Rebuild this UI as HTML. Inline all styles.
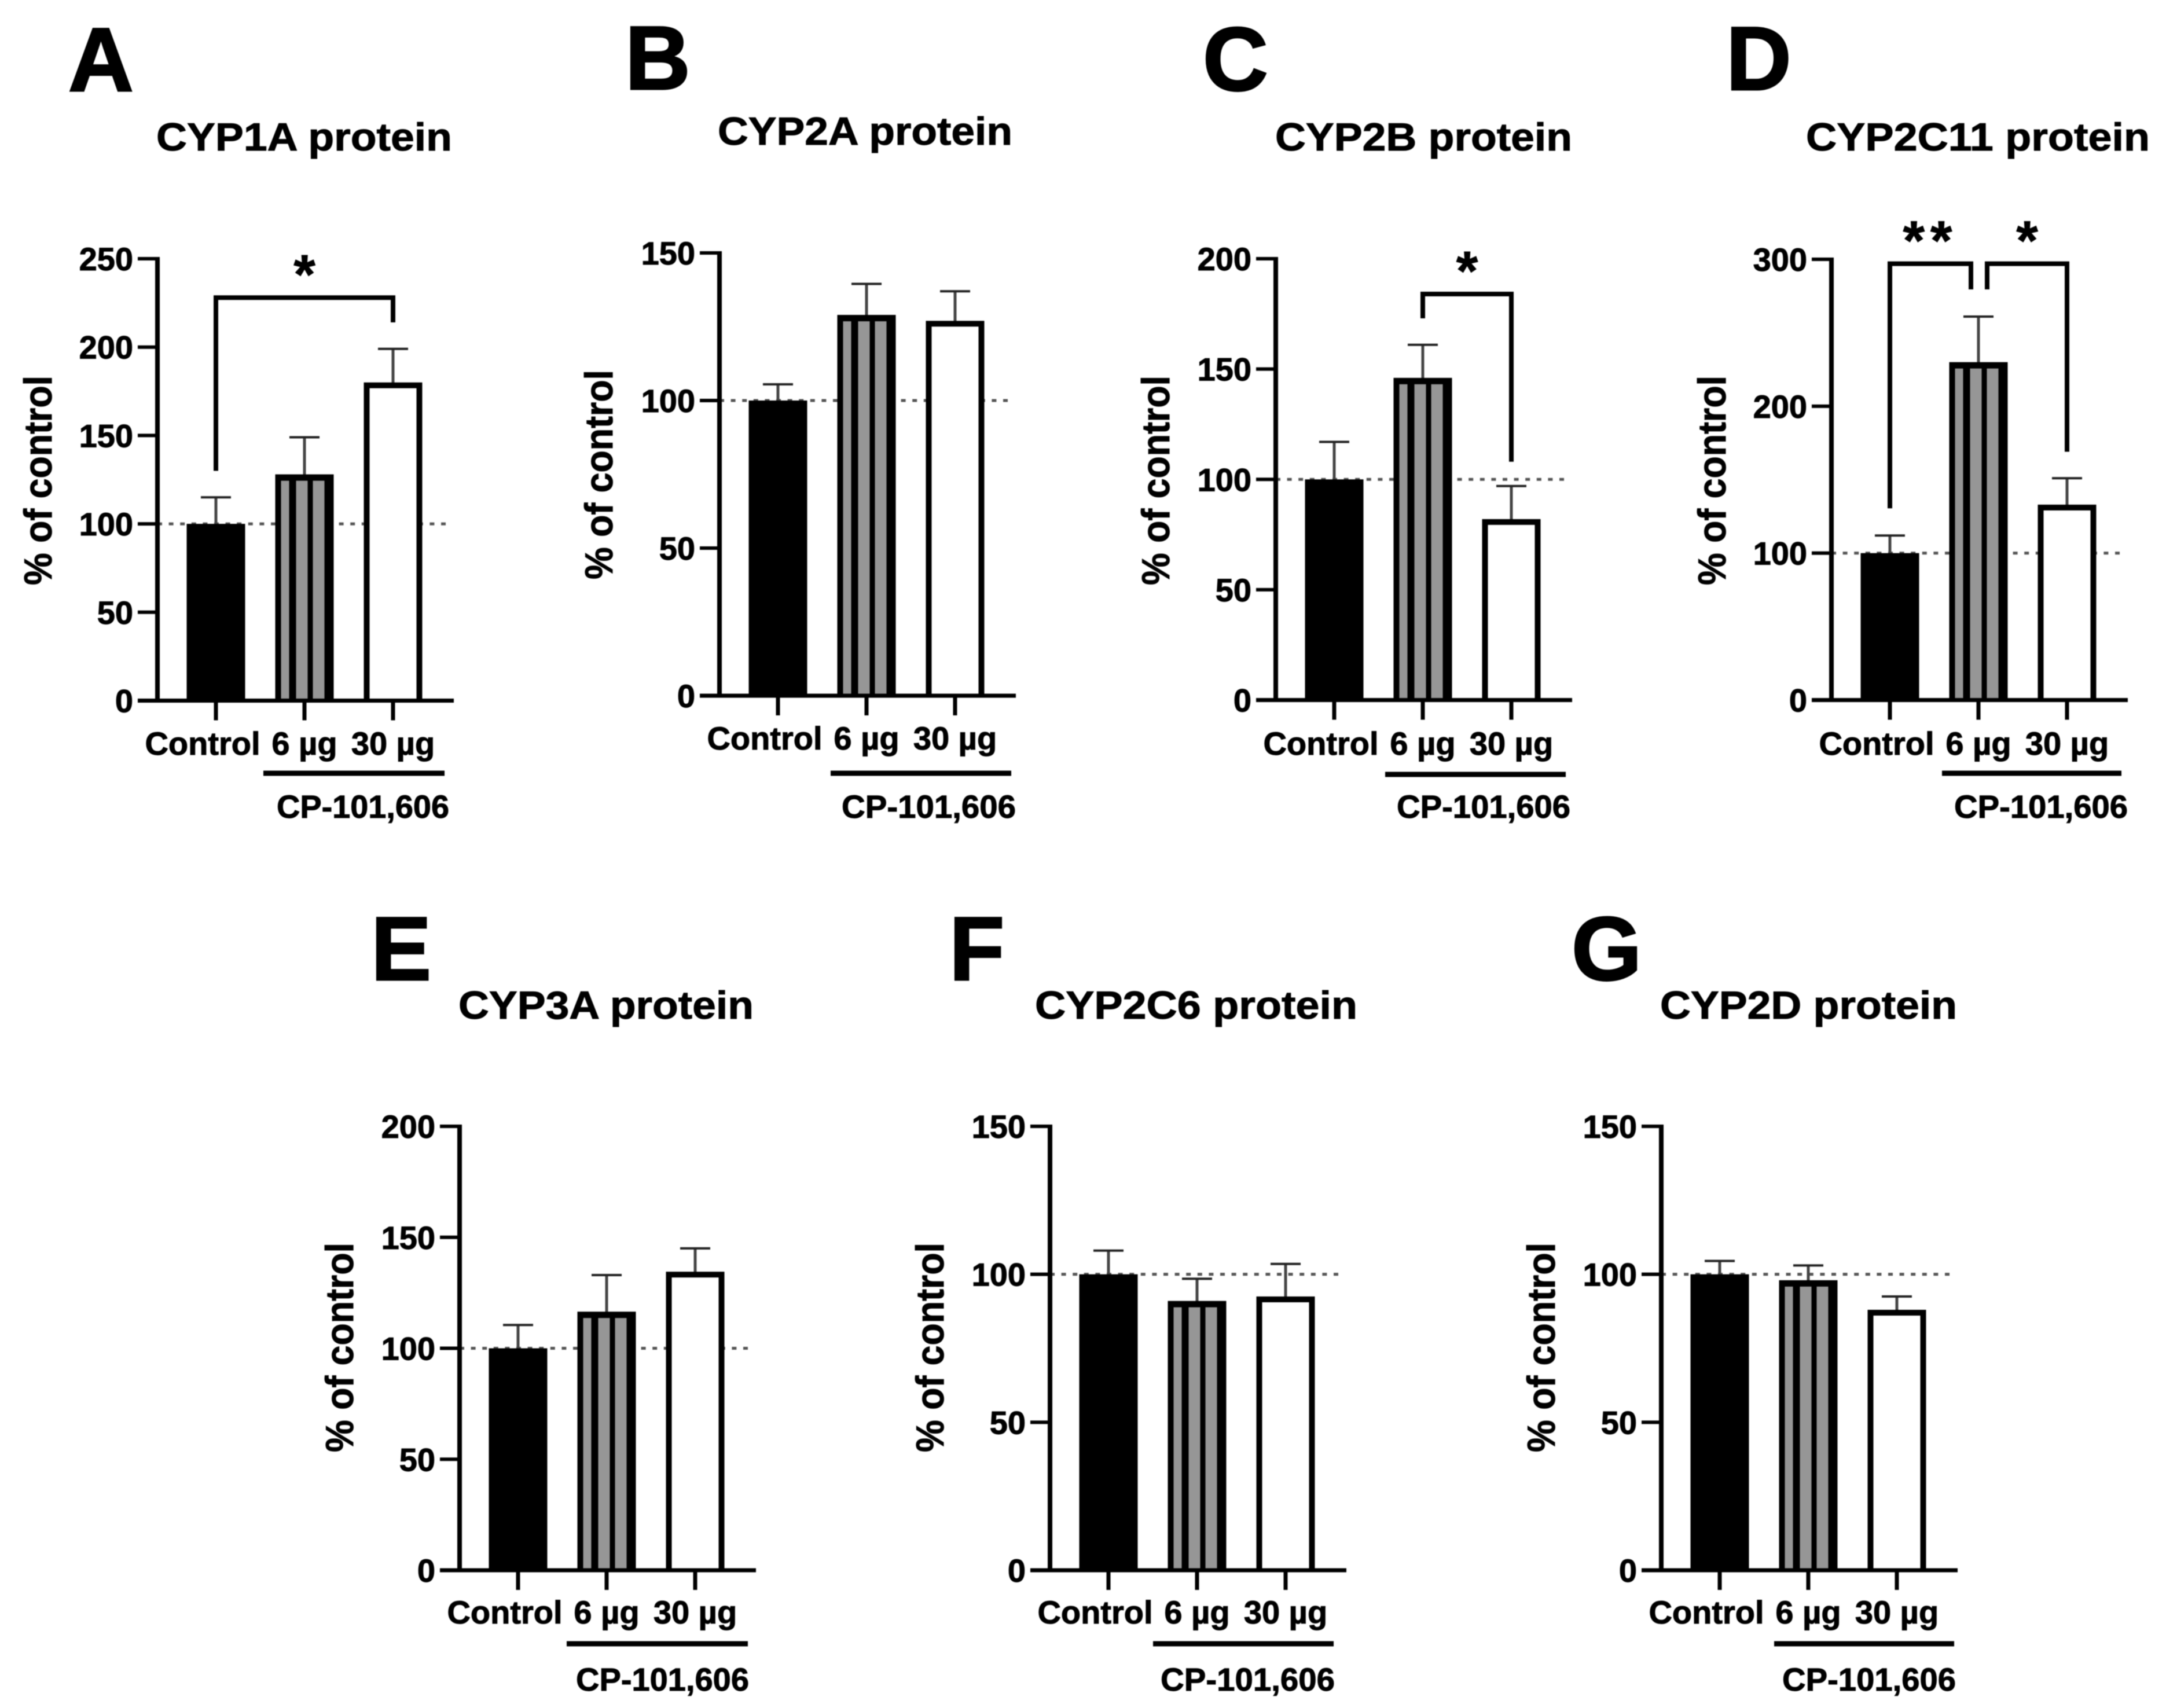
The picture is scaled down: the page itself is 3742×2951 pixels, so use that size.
<!DOCTYPE html>
<html lang="en">
<head>
<meta charset="utf-8">
<title>CYP protein levels</title>
<style>
html,body{margin:0;padding:0;background:#fff;}
svg{display:block;filter:blur(0.8px);}
text{font-family:"Liberation Sans",sans-serif;font-weight:700;fill:#000;stroke:#000;stroke-width:1px;}
</style>
</head>
<body>
<svg id="figure" xmlns="http://www.w3.org/2000/svg" width="3742" height="2951" viewBox="0 0 3742 2951"></svg>
<script>
// ---- chart data ----
const categories = ['Control', '6 µg', '30 µg'];
const treatmentLabel = 'CP-101,606';
const yAxisTitle = '% of control';
const referenceValue = 100;

const titles = ['CYP1A protein', 'CYP2A protein', 'CYP2B protein', 'CYP2C11 protein', 'CYP3A protein', 'CYP2C6 protein', 'CYP2D protein'];
const panelLetters = ['A', 'B', 'C', 'D', 'E', 'F', 'G'];

const ticksA = [0, 50, 100, 150, 200, 250];
const ticksB = [0, 50, 100, 150];
const ticksC = [0, 50, 100, 150, 200];
const ticksD = [0, 100, 200, 300];
const ticksE = [0, 50, 100, 150, 200];
const ticksF = [0, 50, 100, 150];
const ticksG = [0, 50, 100, 150];

const meansA = [100, 128, 180];
const meansB = [100, 129, 127];
const meansC = [100, 146, 82];
const meansD = [100, 230, 133];
const meansE = [100, 116.5, 134.5];
const meansF = [100, 91, 92.5];
const meansG = [100, 98, 88];

const errTopA = [115, 149, 199];
const errTopB = [105.5, 139.5, 137];
const errTopC = [117, 161, 97];
const errTopD = [112, 261, 151];
const errTopE = [110.5, 133, 145];
const errTopF = [108, 98.5, 103.5];
const errTopG = [104.5, 103, 92.5];

// significance brackets, in category index and axis units
const bracketsA = [{from: 0, to: 2, top: 228, footFrom: 130, footTo: 214, mark: '*'}];
const bracketsB = [];
const bracketsC = [{from: 1, to: 2, top: 184, footFrom: 173, footTo: 108, mark: '*'}];
const bracketsD = [
  {from: 0, to: 1, top: 297, footFrom: 130.5, footTo: 279.5, mark: '**', nudgeTo: -13},
  {from: 1, to: 2, top: 297, footFrom: 279.5, footTo: 169, mark: '*', nudgeFrom: 15}
];
const bracketsE = [];
const bracketsF = [];
const bracketsG = [];

const allTicks = [ticksA, ticksB, ticksC, ticksD, ticksE, ticksF, ticksG];
const allMeans = [meansA, meansB, meansC, meansD, meansE, meansF, meansG];
const allErrTops = [errTopA, errTopB, errTopC, errTopD, errTopE, errTopF, errTopG];
const allBrackets = [bracketsA, bracketsB, bracketsC, bracketsD, bracketsE, bracketsF, bracketsG];

// ---- page layout (pixels) ----
const layouts = [
  {axisX: 272,  y0: 1210.5, yTop: 447, labelY: 1304, ruleY: 1336, ruleA: 455,  ruleB: 768,  cpY: 1413, cpA: 478,  cpB: 776,  titleA: 270,  titleB: 781,  titleY: 260,  letterX: 118,  letterY: 157,  yTitleX: 89,   yTitleC: 830},
  {axisX: 1243, y0: 1202,   yTop: 437, labelY: 1295, ruleY: 1336, ruleA: 1435, ruleB: 1747, cpY: 1413, cpA: 1454, cpB: 1755, titleA: 1240, titleB: 1749, titleY: 250,  letterX: 1080, letterY: 154,  yTitleX: 1058, yTitleC: 820},
  {axisX: 2204, y0: 1209.5, yTop: 447, labelY: 1304, ruleY: 1338, ruleA: 2393, ruleB: 2705, cpY: 1413, cpA: 2413, cpB: 2713, titleA: 2203, titleB: 2716, titleY: 260,  letterX: 2078, letterY: 156,  yTitleX: 2020, yTitleC: 830},
  {axisX: 3164, y0: 1209.5, yTop: 448, labelY: 1304, ruleY: 1336, ruleA: 3355, ruleB: 3665, cpY: 1413, cpA: 3376, cpB: 3676, titleA: 3120, titleB: 3714, titleY: 260,  letterX: 2982, letterY: 155,  yTitleX: 2981, yTitleC: 830},
  {axisX: 794,  y0: 2713,   yTop: 1946, labelY: 2805, ruleY: 2840, ruleA: 979,  ruleB: 1292, cpY: 2921, cpA: 995,  cpB: 1294, titleA: 792,  titleB: 1302, titleY: 1760, letterX: 641,  letterY: 1693, yTitleX: 610,  yTitleC: 2328},
  {axisX: 1814, y0: 2713,   yTop: 1946, labelY: 2805, ruleY: 2840, ruleA: 1992, ruleB: 2304, cpY: 2921, cpA: 2005, cpB: 2306, titleA: 1788, titleB: 2345, titleY: 1760, letterX: 1640, letterY: 1693, yTitleX: 1630, yTitleC: 2328},
  {axisX: 2870, y0: 2713,   yTop: 1946, labelY: 2805, ruleY: 2840, ruleA: 3065, ruleB: 3376, cpY: 2921, cpA: 3079, cpB: 3379, titleA: 2868, titleB: 3381, titleY: 1760, letterX: 2715, letterY: 1693, yTitleX: 2686, yTitleC: 2328}
];

const SVG_NS = 'http://www.w3.org/2000/svg';
const figure = document.getElementById('figure');

function make(parent, tag, attrs, name) {
  const node = document.createElementNS(SVG_NS, tag);
  for (const key in attrs) { node.setAttribute(key, attrs[key]); }
  
  
  parent.appendChild(node);
  return node;
}
function line(parent, x1, y1, x2, y2, width, name, color) {
  return make(parent, 'line', {x1: x1, y1: y1, x2: x2, y2: y2, stroke: color || '#000', 'stroke-width': width}, name);
}
function label(parent, str, attrs, name) {
  const node = make(parent, 'text', attrs, name);
  node.textContent = str;
  return node;
}

function drawPanel(p) {
  const L = layouts[p];
  const ticks = allTicks[p];
  const means = allMeans[p];
  const errTops = allErrTops[p];
  const brackets = allBrackets[p];
  const yMax = ticks[ticks.length - 1];
  const id = panelLetters[p].toLowerCase();
  const yScale = v => L.y0 - (v / yMax) * (L.y0 - L.yTop);
  const xScale = i => L.axisX + 101 + i * 153;
  const BAR_W = 101, BORDER = 10;

  const g = make(figure, 'g', {}, 'panel-' + id);

  label(g, panelLetters[p], {x: L.letterX, y: L.letterY, 'font-size': 156, style: 'stroke-width:3px'}, 'panel-letter-' + id);
  label(g, titles[p], {x: L.titleA, y: L.titleY, 'font-size': 68, textLength: L.titleB - L.titleA, lengthAdjust: 'spacingAndGlyphs'}, 'chart-title-' + id);

  // reference dashed line
  line(g, L.axisX, yScale(referenceValue), L.axisX + 506, yScale(referenceValue), 5, 'reference-line-' + id, '#555')
    .setAttribute('stroke-dasharray', '8 11.6');

  // bars and error bars
  means.forEach((m, i) => {
    const cx = xScale(i), top = yScale(m), left = cx - BAR_W / 2, h = L.y0 - top;
    const errY = yScale(errTops[i]);
    line(g, cx, top + 2, cx, errY, 5, 'error-stem-' + id + '-' + i, '#444');
    line(g, cx - 26, errY, cx + 26, errY, 4, 'error-cap-' + id + '-' + i, '#222');
    make(g, 'rect', {x: left, y: top, width: BAR_W, height: h, fill: '#000'}, 'bar-' + id + '-' + i);
    if (i === 1) {
      [[10, 14], [36, 20], [65, 20]].forEach((s, k) => {
        make(g, 'rect', {x: left + s[0], y: top + 11, width: s[1], height: Math.max(h - 11, 0), fill: '#969696'}, 'bar-stripe-' + id + '-' + k);
      });
    }
    if (i === 2) {
      make(g, 'rect', {x: left + BORDER, y: top + BORDER, width: BAR_W - 2 * BORDER, height: Math.max(h - BORDER, 0), fill: '#fff'}, 'bar-fill-' + id + '-' + i);
    }
  });

  // axes
  line(g, L.axisX, L.yTop - 3, L.axisX, L.y0 + 3, 8, 'y-axis-' + id);
  line(g, L.axisX - 34, L.y0, L.axisX + 512, L.y0, 7, 'x-axis-' + id);

  ticks.forEach(t => {
    const y = yScale(t);
    line(g, L.axisX - 34, y, L.axisX, y, 6, 'y-tick-' + id + '-' + t);
    label(g, String(t), {x: L.axisX - 42, y: y + 20, 'font-size': 56, 'text-anchor': 'end'}, 'y-tick-label-' + id + '-' + t);
  });

  categories.forEach((c, i) => {
    const cx = xScale(i);
    line(g, cx, L.y0, cx, L.y0 + 34, 7, 'x-tick-' + id + '-' + i);
    const labelX = i === 0 ? cx - 23 : cx;
    label(g, c, {x: labelX, y: L.labelY, 'font-size': 56, 'text-anchor': 'middle'}, 'x-tick-label-' + id + '-' + i);
  });

  line(g, L.ruleA, L.ruleY, L.ruleB, L.ruleY, 9, 'treatment-rule-' + id);
  label(g, treatmentLabel, {x: L.cpA, y: L.cpY, 'font-size': 56, textLength: L.cpB - L.cpA, lengthAdjust: 'spacingAndGlyphs'}, 'treatment-label-' + id);

  const yc = L.yTitleC;
  label(g, yAxisTitle, {x: L.yTitleX, y: yc, 'font-size': 68, 'text-anchor': 'middle', textLength: 362, lengthAdjust: 'spacingAndGlyphs', transform: 'rotate(-90 ' + L.yTitleX + ' ' + yc + ')'}, 'y-axis-title-' + id);

  // significance brackets
  brackets.forEach((b, k) => {
    const x1 = xScale(b.from) + (b.nudgeFrom || 0), x2 = xScale(b.to) + (b.nudgeTo || 0);
    const topY = yScale(b.top);
    const d = 'M' + x1 + ' ' + yScale(b.footFrom) + 'V' + topY + 'H' + x2 + 'V' + yScale(b.footTo);
    make(g, 'path', {d: d, fill: 'none', stroke: '#000', 'stroke-width': 8}, 'significance-bracket-' + id + '-' + k);
    const starY = topY - 7;
    label(g, b.mark, {x: (x1 + x2) / 2, y: starY, 'font-size': 96, 'text-anchor': 'middle', 'letter-spacing': b.mark.length > 1 ? 10 : 0}, 'significance-mark-' + id + '-' + k);
  });
}

layouts.forEach((_, p) => drawPanel(p));
</script>
</body>
</html>
